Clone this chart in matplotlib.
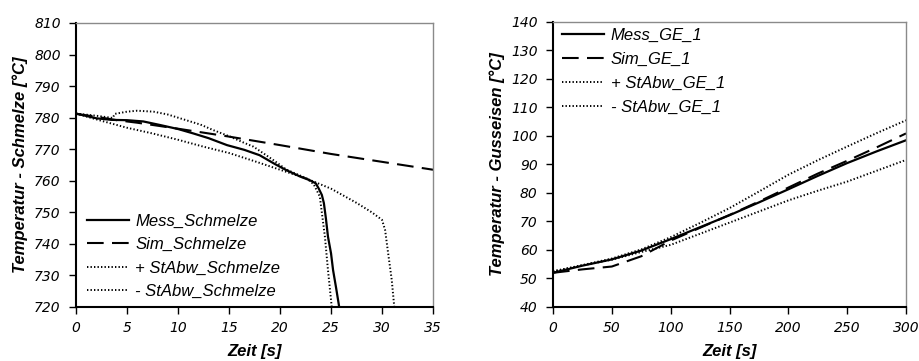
import matplotlib
matplotlib.use("Agg")
import matplotlib.pyplot as plt

# --- Schmelze (melt) temperatures, left panel ---
mess_s_t = [0, 2, 3.5, 5, 6.6, 8.2, 10, 11.5, 13, 14.8, 16.5, 18, 19.5, 20.6,
            22, 22.9, 23.5, 23.8, 24.1, 24.3, 24.5, 24.7, 25.0, 25.2, 25.5, 25.8]
mess_s_T = [781.3, 779.8, 779.3, 779.2, 778.8, 777.7, 776.4, 775.0, 773.5, 771.3,
            769.8, 768.1, 765.3, 763.4, 761.3, 760.2, 759.2, 757.5, 755.5, 752.9,
            748.0, 742.3, 737.0, 731.7, 726.0, 720.0]

sim_s_t = [0, 2, 4, 6, 10, 15, 20, 25, 30, 35]
sim_s_T = [781.2, 780.3, 779.2, 778.4, 776.5, 774.0, 771.3, 768.5, 766.0, 763.5]

plus_s_t = [0, 2, 3.6, 3.8, 5, 6, 7.6, 9, 10.5, 12.2, 13.5, 15.1, 16.5, 17.4, 18.6,
            19.5, 20.6, 21.5, 22.6, 23.3, 23.9, 24.4, 24.7, 25.07]
plus_s_T = [781.3, 780.6, 779.9, 781.2, 781.9, 782.2, 781.9, 781.0, 779.5, 777.8,
            776.0, 774.0, 772.0, 770.8, 768.2, 766.2, 763.6, 762.3, 760.8, 758.9,
            755.0, 742.3, 731.7, 720.0]

minus_s_t = [0, 2.5, 5, 7.5, 10, 12.5, 15, 17.5, 20, 22.5, 25, 27.5, 29, 30,
             30.3, 30.6, 30.95, 31.2]
minus_s_T = [781.3, 779.0, 776.8, 775.0, 773.0, 770.8, 768.8, 766.2, 763.5, 760.8,
             757.5, 753.0, 750.0, 747.6, 744.4, 737.0, 728.6, 720.0]

# --- Gusseisen (cast iron) temperatures, right panel ---
ge_t = [0, 25, 50, 75, 100, 125, 150, 175, 200, 225, 250, 275, 300]
mess_ge_T = [52.0, 54.5, 56.7, 59.8, 63.8, 68.0, 72.2, 76.7, 81.3, 86.0, 90.5, 94.6, 98.5]
sim_ge_T = [52.0, 53.2, 54.2, 57.8, 63.3, 67.8, 72.3, 77.0, 81.9, 86.8, 91.3, 96.0, 100.9]
plus_ge_T = [52.5, 54.7, 57.0, 60.2, 64.5, 69.5, 74.7, 80.5, 86.4, 91.5, 96.3, 101.0, 105.5]
minus_ge_T = [52.5, 54.6, 56.6, 59.3, 61.8, 65.7, 69.6, 73.5, 77.4, 80.8, 84.0, 87.8, 91.6]

left_labels = ["Mess_Schmelze", "Sim_Schmelze", "+ StAbw_Schmelze", "- StAbw_Schmelze"]
right_labels = ["Mess_GE_1", "Sim_GE_1", "+ StAbw_GE_1", "- StAbw_GE_1"]

FONT = "Liberation Sans"
TICK_FONT = "DejaVu Sans"
TICK_FS = 10
LABEL_FS = 12
LEG_FS = 12

fig = plt.figure(figsize=(9.2, 3.61), dpi=100)
axL = fig.add_axes([0.0826, 0.1496, 0.3881, 0.7867])
axR = fig.add_axes([0.6011, 0.1496, 0.3837, 0.7895])

solid = dict(color="black", lw=1.6, ls="-")
dashed = dict(color="black", lw=1.5, ls=(0, (8, 4)))
dotted = dict(color="black", lw=1.4, ls=(0, (0.7, 1.1)))


def style(ax, xlim, ylim, xticks, yticks, ylabel, ylabel_x, xlabel_y):
    ax.set_xlim(*xlim)
    ax.set_ylim(*ylim)
    ax.set_xticks(xticks)
    ax.set_yticks(yticks)
    ax.set_xticklabels([str(v) for v in xticks], fontfamily=TICK_FONT, fontstyle="oblique",
                       fontsize=TICK_FS)
    ax.set_yticklabels([str(v) for v in yticks], fontfamily=TICK_FONT, fontstyle="oblique",
                       fontsize=TICK_FS)
    ax.tick_params(direction="out", length=5, width=1, color="black")
    ax.tick_params(axis="x", top=False, pad=5)
    ax.tick_params(axis="y", right=False, pad=6)
    for s in ("left", "bottom"):
        ax.spines[s].set_color("black")
        ax.spines[s].set_linewidth(1.5)
    for s in ("top", "right"):
        ax.spines[s].set_color("#8a8a8a")
        ax.spines[s].set_linewidth(1.0)
    ax.set_xlabel("Zeit [s]", fontfamily=FONT, fontstyle="italic", fontweight="bold",
                  fontsize=LABEL_FS)
    ax.xaxis.set_label_coords(0.5, xlabel_y)
    ax.set_ylabel(ylabel, fontfamily=FONT, fontstyle="italic", fontweight="bold",
                  fontsize=LABEL_FS)
    ax.yaxis.set_label_coords(ylabel_x, 0.5)


# Left panel
axL.plot(mess_s_t, mess_s_T, label=left_labels[0], **solid)
axL.plot(sim_s_t, sim_s_T, label=left_labels[1], **dashed)
axL.plot(plus_s_t, plus_s_T, label=left_labels[2], **dotted)
axL.plot(minus_s_t, minus_s_T, label=left_labels[3], **dotted)
style(axL, (0, 35), (720, 810), list(range(0, 36, 5)), list(range(720, 811, 10)),
      "Temperatur - Schmelze [°C]", -0.134, -0.13)

# Right panel
axR.plot(ge_t, mess_ge_T, label=right_labels[0], **solid)
axR.plot(ge_t, sim_ge_T, label=right_labels[1], **dashed)
axR.plot(ge_t, plus_ge_T, label=right_labels[2], **dotted)
axR.plot(ge_t, minus_ge_T, label=right_labels[3], **dotted)
style(axR, (0, 300), (40, 140), list(range(0, 301, 50)), list(range(40, 141, 10)),
      "Temperatur - Gusseisen [°C]", -0.136, -0.13)

legend_font = dict(family=FONT, style="italic", size=LEG_FS)
axL.legend(loc="upper left", bbox_to_anchor=(0.031, 0.328), frameon=False,
           prop=legend_font, handlelength=2.5, handletextpad=0.4, labelspacing=0.5,
           borderpad=0, borderaxespad=0)
axR.legend(loc="upper left", bbox_to_anchor=(0.026, 0.981), frameon=False,
           prop=legend_font, handlelength=2.5, handletextpad=0.4, labelspacing=0.55,
           borderpad=0, borderaxespad=0)

fig.savefig("out.png", dpi=100)
